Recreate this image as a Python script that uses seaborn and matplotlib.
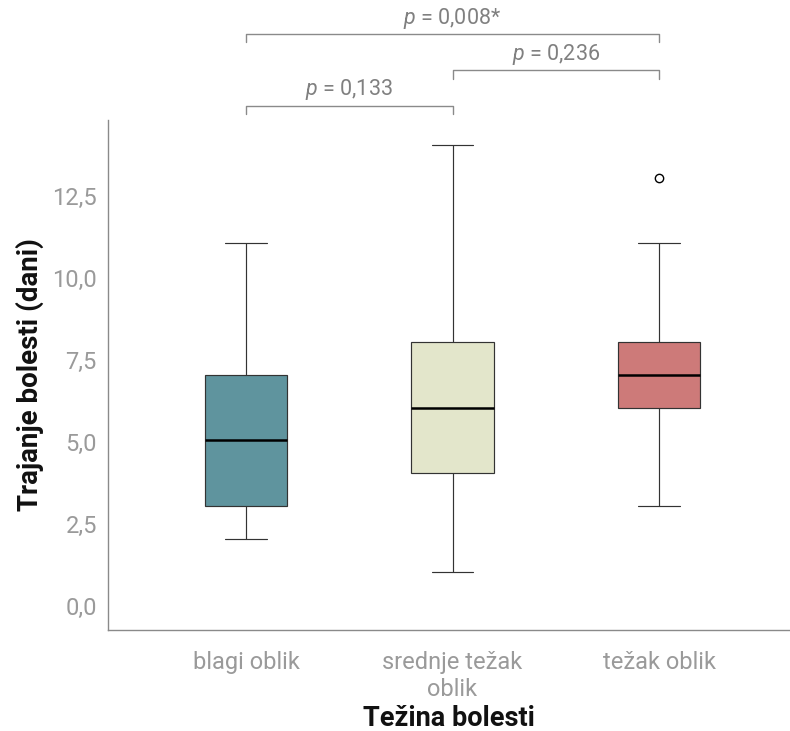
import matplotlib
matplotlib.use("Agg")
import matplotlib.pyplot as plt
import seaborn as sns
import pandas as pd

# ---- data ----
categories = ["blagi oblik", "srednje težak\noblik", "težak oblik"]
blagi_vals = [2.05, 3.05, 5.05, 7.05, 11.05]
srednje_vals = [1.05, 4.05, 6.05, 8.05, 14.05]
tezak_vals = [3.05, 5.05, 6.05, 6.55, 7.05, 7.55, 8.05, 11.05, 13.05]
box_colors = ["#5F949E", "#E3E6CB", "#CD7A79"]
y_ticks = [0.0, 2.5, 5.0, 7.5, 10.0, 12.5]
y_tick_labels = ["0,0", "2,5", "5,0", "7,5", "10,0", "12,5"]
comparisons = [(0, 1, "0,133"), (1, 2, "0,236"), (0, 2, "0,008*")]
bracket_levels = [15.24, 16.31, 17.41]

df = pd.DataFrame({
    "group": [categories[0]] * len(blagi_vals)
    + [categories[1]] * len(srednje_vals)
    + [categories[2]] * len(tezak_vals),
    "value": blagi_vals + srednje_vals + tezak_vals,
})

sns.set_theme(style="white")
plt.rcParams["font.family"] = ["Roboto", "DejaVu Sans"]
plt.rcParams["mathtext.fontset"] = "custom"
plt.rcParams["mathtext.it"] = "Roboto:italic"
plt.rcParams["mathtext.rm"] = "Roboto"

fig = plt.figure(figsize=(7.9, 7.31), dpi=100)
ax = fig.add_axes([108 / 790, 1 - 630 / 731, 1 - 108 / 790, (630 - 120) / 731])

sns.boxplot(
    data=df, x="group", y="value", hue="group", order=categories,
    hue_order=categories, palette=box_colors, width=0.4, whis=1.55,
    linecolor="#333333", linewidth=0.85, fliersize=6, legend=False,
    flierprops=dict(marker="o", markerfacecolor="white",
                    markeredgecolor="black", markeredgewidth=1.0),
    medianprops=dict(color="black", linewidth=1.8),
    saturation=1, ax=ax,
)

ax.set_xlim(-0.668, 2.634)
ax.set_ylim(-0.72, 14.8)
ax.set_yticks(y_ticks)
ax.set_yticklabels(y_tick_labels)

gray = "#8a8a8a"
for side in ["top", "right"]:
    ax.spines[side].set_visible(False)
for side in ["left", "bottom"]:
    ax.spines[side].set_color(gray)
    ax.spines[side].set_linewidth(1.0)

ax.tick_params(axis="y", length=0, pad=8, labelsize=17, labelcolor="#9a9a9a")
ax.tick_params(axis="x", length=5, width=1.0, color=gray, pad=10,
               labelsize=17, labelcolor="#9a9a9a")
for lbl in ax.get_xticklabels():
    lbl.set_linespacing(1.25)

ax.set_xlabel("Težina bolesti", fontsize=19.5, fontweight="bold", color="#111111", labelpad=3)
ax.set_ylabel("Trajanje bolesti (dani)", fontsize=20, fontweight="bold", color="#111111", labelpad=6)

# significance brackets
for (i, j, p), lvl in zip(comparisons, bracket_levels):
    ax.plot([i, i, j, j], [lvl - 0.25, lvl, lvl, lvl - 0.25], color=gray,
            linewidth=1.0, clip_on=False)
    ax.text((i + j) / 2, lvl + 0.1, r"$\it{p}$" + " = " + p, ha="center",
            va="bottom", fontsize=15.5, color="#808080", clip_on=False)

fig.savefig("out.png", dpi=100)
